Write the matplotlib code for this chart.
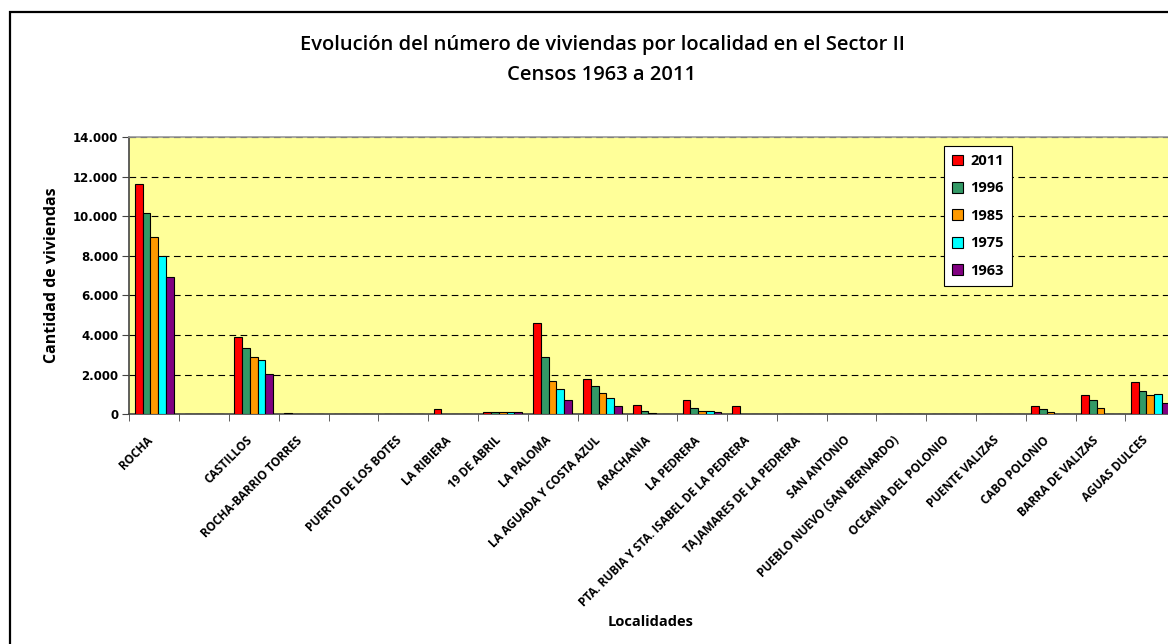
import numpy as np
import matplotlib
matplotlib.use("Agg")
import matplotlib.pyplot as plt
import matplotlib.transforms as mtransforms
from matplotlib.patches import Rectangle

plt.rcParams['font.family'] = ['Open Sans', 'DejaVu Sans']

localidades = ["ROCHA", "", "CASTILLOS", "ROCHA-BARRIO TORRES", "",
               "PUERTO DE LOS BOTES", "LA RIBIERA", "19 DE ABRIL", "LA PALOMA",
               "LA AGUADA Y COSTA AZUL", "ARACHANIA", "LA PEDRERA",
               "PTA. RUBIA Y STA. ISABEL DE LA PEDRERA", "TAJAMARES DE LA PEDRERA",
               "SAN ANTONIO", "PUEBLO NUEVO (SAN BERNARDO)", "OCEANIA DEL POLONIO",
               "PUENTE VALIZAS", "CABO POLONIO", "BARRA DE VALIZAS", "AGUAS DULCES"]

censos = ["2011", "1996", "1985", "1975", "1963"]
v2011 = [11650, 0, 3890, 60, 0, 40, 250, 130, 4620, 1780, 480, 720, 420, 0, 30, 0, 30, 30, 420, 990, 1610]
v1996 = [10170, 0, 3330, 0, 0, 0, 0, 120, 2880, 1410, 180, 300, 0, 0, 0, 0, 0, 0, 250, 740, 1160]
v1985 = [8930, 0, 2880, 0, 0, 0, 0, 120, 1660, 1090, 50, 180, 0, 0, 0, 0, 0, 0, 110, 320, 970]
v1975 = [8000, 0, 2720, 0, 0, 0, 0, 120, 1290, 810, 40, 180, 0, 0, 0, 0, 0, 0, 30, 30, 1040]
v1963 = [6910, 0, 2030, 0, 0, 0, 0, 110, 720, 420, 30, 100, 0, 0, 0, 0, 0, 0, 0, 0, 560]
series = [v2011, v1996, v1985, v1975, v1963]
colores = ["#FF0000", "#339966", "#FF9900", "#00FFFF", "#800080"]

fig = plt.figure(figsize=(11.68, 6.44), dpi=100)
W, H = 1168, 644

# outer chart border (cut off at right and bottom like the reference)
fig.patches.append(Rectangle((9.5 / W, -0.1), 1.2, 1.1 - 12 / H, transform=fig.transFigure,
                             fill=False, edgecolor="black", lw=1.6))

n = len(localidades)
left, right, top, bottom = 129.3, 129.3 + n * 49.8, 137, 414.3
ax = fig.add_axes([left / W, 1 - bottom / H, (right - left) / W, (bottom - top) / H])
ax.set_facecolor("#FFFF99")

x = np.arange(n)
bw = 0.156
for i, (vals, c, lab) in enumerate(zip(series, colores, censos)):
    ax.bar(x + (i - 2) * bw, vals, bw, color=c, edgecolor="black", linewidth=0.8, label=lab, zorder=3)

ax.set_xlim(-0.5, n - 0.5)
ax.set_ylim(0, 14000)
ax.set_yticks(np.arange(0, 14001, 2000))
ax.set_yticklabels([f"{int(v):,}".replace(",", ".") for v in np.arange(0, 14001, 2000)],
                   fontweight="bold", fontsize=8.5, family="DejaVu Sans")
ax.yaxis.grid(True, linestyle=(0, (6, 4)), color="black", linewidth=0.8, zorder=1)
ax.set_axisbelow(True)

ax.set_xticks(x)
ax.set_xticklabels(localidades, rotation=45, ha="right", rotation_mode="anchor",
                   fontweight="bold", fontsize=8.5)
ax.set_xticks(np.arange(-0.5, n, 1), minor=True)
ax.tick_params(axis="x", which="major", length=0, pad=14)
ax.tick_params(axis="x", which="minor", length=5, color="#444444")
ax.tick_params(axis="y", length=5, color="#444444", pad=3)
off = mtransforms.ScaledTranslation(-6 / 72, 0, fig.dpi_scale_trans)
for t in ax.get_xticklabels():
    t.set_transform(t.get_transform() + off)

for s in ["left", "bottom"]:
    ax.spines[s].set_color("#444444")
    ax.spines[s].set_linewidth(1.2)
ax.spines["top"].set_color("#999999")
ax.spines["top"].set_linewidth(1.2)
ax.spines["right"].set_visible(False)

ax.set_ylabel("Cantidad de viviendas", fontweight="bold", fontsize=11.5, labelpad=9)
fig.text(651 / W, 1 - 622 / H, "Localidades", ha="center", va="center",
         fontweight="bold", fontsize=10.5)

fig.text(602 / W, 1 - 45 / H, "Evolución del número de viviendas por localidad en el Sector II",
         ha="center", va="center", fontsize=14.5, fontweight="semibold")
fig.text(602 / W, 1 - 75 / H, "Censos 1963 a 2011", ha="center", va="center",
         fontsize=14.5, fontweight="semibold")

leg = ax.legend(loc="upper left", bbox_to_anchor=((944 - left) / (right - left), (bottom - 146) / (bottom - top)),
                frameon=True, fancybox=False, shadow=False, framealpha=1, edgecolor="black",
                prop={"weight": "bold", "size": 10.5}, handlelength=0.75, handleheight=0.75,
                handletextpad=0.5, labelspacing=0.92, borderpad=0.55, borderaxespad=0)
leg.get_frame().set_linewidth(0.8)

fig.savefig("out.png", dpi=100)
